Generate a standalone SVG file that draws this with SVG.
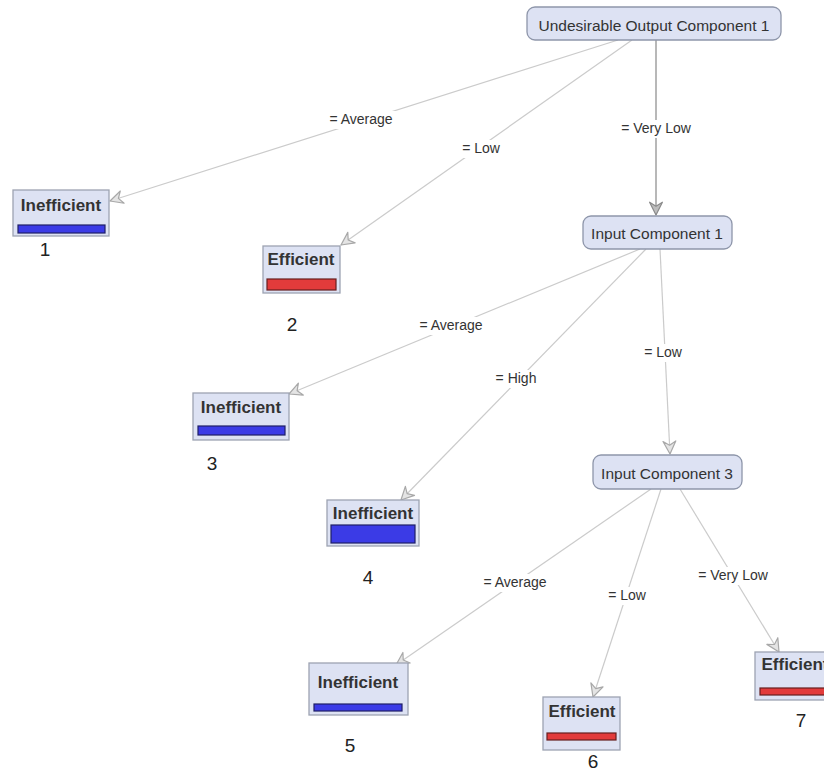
<svg xmlns="http://www.w3.org/2000/svg" width="824" height="772" viewBox="0 0 824 772">
<style>
.dec rect.box{fill:#dde2f3;stroke:#8e96aa;stroke-width:1.3}
.dec text{font-family:"Liberation Sans",Arial,sans-serif;font-size:15.5px;fill:#333;text-anchor:middle}
.leaf rect.box{fill:#dde2f3;stroke:#9da3b2;stroke-width:1.3}
.leaf text.t{font-family:"Liberation Sans",Arial,sans-serif;font-size:17px;font-weight:bold;fill:#333;text-anchor:middle}
.leaf text.n{font-family:"Liberation Sans",Arial,sans-serif;font-size:19px;fill:#222;text-anchor:middle}
.blue{fill:#3b3be6;stroke:#1e1e66;stroke-width:1.2}
.red{fill:#e23b3b;stroke:#661e1e;stroke-width:1.2}
.edge{stroke:#cbcbcb;stroke-width:1.2;fill:none}
.edge.dark{stroke:#9a9a9a;stroke-width:1.4}
.lbl rect{fill:#fff}
.lbl text{font-family:"Liberation Sans",Arial,sans-serif;font-size:14px;fill:#333;text-anchor:middle}
</style>
<defs>
<marker id="arr" viewBox="0 0 20 20" refX="18" refY="10" markerWidth="16" markerHeight="16" markerUnits="userSpaceOnUse" orient="auto">
<path d="M2,2 L18,10 L2,18 L7,10 Z" fill="#e4e4e4" stroke="#a8a8a8" stroke-width="1.5" stroke-linejoin="round"/>
</marker>
<marker id="arrd" viewBox="0 0 20 20" refX="18" refY="10" markerWidth="16" markerHeight="16" markerUnits="userSpaceOnUse" orient="auto">
<path d="M2,2 L18,10 L2,18 L7,10 Z" fill="#bdbdbd" stroke="#8a8a8a" stroke-width="1.5" stroke-linejoin="round"/>
</marker>
</defs>
<rect width="824" height="772" fill="#fff"/>
<g id="connectors">
<line class="edge" x1="618" y1="40" x2="110" y2="201" marker-end="url(#arr)"/>
<line class="edge" x1="632" y1="40" x2="341" y2="245" marker-end="url(#arr)"/>
<line class="edge dark" x1="656" y1="40" x2="656" y2="215" marker-end="url(#arrd)"/>
<line class="edge" x1="640" y1="249" x2="289" y2="394" marker-end="url(#arr)"/>
<line class="edge" x1="646" y1="249" x2="401" y2="500" marker-end="url(#arr)"/>
<line class="edge" x1="660" y1="249" x2="670" y2="454" marker-end="url(#arr)"/>
<line class="edge" x1="651" y1="489" x2="396" y2="665" marker-end="url(#arr)"/>
<line class="edge" x1="661" y1="489" x2="593" y2="697" marker-end="url(#arr)"/>
<line class="edge" x1="680" y1="489" x2="779" y2="652" marker-end="url(#arr)"/>
<g class="lbl">
<rect x="324" y="111" width="74" height="18"/><text x="361" y="124">= Average</text>
<rect x="457" y="140" width="48" height="18"/><text x="481" y="153">= Low</text>
<rect x="614" y="120" width="84" height="18"/><text x="656" y="133">= Very Low</text>
<rect x="412" y="317" width="78" height="18"/><text x="451" y="330">= Average</text>
<rect x="490" y="370" width="53" height="18"/><text x="516" y="383">= High</text>
<rect x="639" y="344" width="48" height="18"/><text x="663" y="357">= Low</text>
<rect x="476" y="574" width="78" height="18"/><text x="515" y="587">= Average</text>
<rect x="603" y="587" width="48" height="18"/><text x="627" y="600">= Low</text>
<rect x="689" y="567" width="88" height="18"/><text x="733" y="580">= Very Low</text>
</g>
</g>
<g id="n-root" class="dec"><rect class="box" x="527" y="7" width="254" height="33" rx="8"/><text x="654" y="31">Undesirable Output Component 1</text></g>
<g id="n-ic1" class="dec"><rect class="box" x="583" y="216" width="149" height="33" rx="8"/><text x="657" y="239">Input Component 1</text></g>
<g id="n-ic3" class="dec"><rect class="box" x="593" y="455" width="149" height="34" rx="8"/><text x="667" y="479">Input Component 3</text></g>
<g id="n-leaf1" class="leaf"><rect class="box" x="13" y="190" width="96" height="46"/><text class="t" x="61" y="211">Inefficient</text><rect class="blue" x="18" y="225" width="87" height="8"/><text class="n" x="45" y="256">1</text></g>
<g id="n-leaf2" class="leaf"><rect class="box" x="263" y="246" width="77" height="47"/><text class="t" x="301" y="265">Efficient</text><rect class="red" x="267" y="279" width="69" height="11"/><text class="n" x="292" y="331">2</text></g>
<g id="n-leaf3" class="leaf"><rect class="box" x="193" y="393" width="96" height="47"/><text class="t" x="241" y="413">Inefficient</text><rect class="blue" x="198" y="426" width="87" height="9"/><text class="n" x="212" y="470">3</text></g>
<g id="n-leaf4" class="leaf"><rect class="box" x="327" y="500" width="92" height="46"/><text class="t" x="373" y="519">Inefficient</text><rect class="blue" x="331" y="525" width="84" height="18"/><text class="n" x="368" y="584">4</text></g>
<g id="n-leaf5" class="leaf"><rect class="box" x="309" y="663" width="99" height="52"/><text class="t" x="358" y="688">Inefficient</text><rect class="blue" x="314" y="704" width="88" height="7"/><text class="n" x="350" y="752">5</text></g>
<g id="n-leaf6" class="leaf"><rect class="box" x="543" y="697" width="77" height="53"/><text class="t" x="582" y="717">Efficient</text><rect class="red" x="547" y="733" width="69" height="7"/><text class="n" x="593" y="768">6</text></g>
<g id="n-leaf7" class="leaf"><rect class="box" x="755" y="652" width="80" height="48"/><text class="t" x="795" y="670">Efficient</text><rect class="red" x="760" y="688" width="70" height="7"/><text class="n" x="801" y="727">7</text></g>
</svg>
